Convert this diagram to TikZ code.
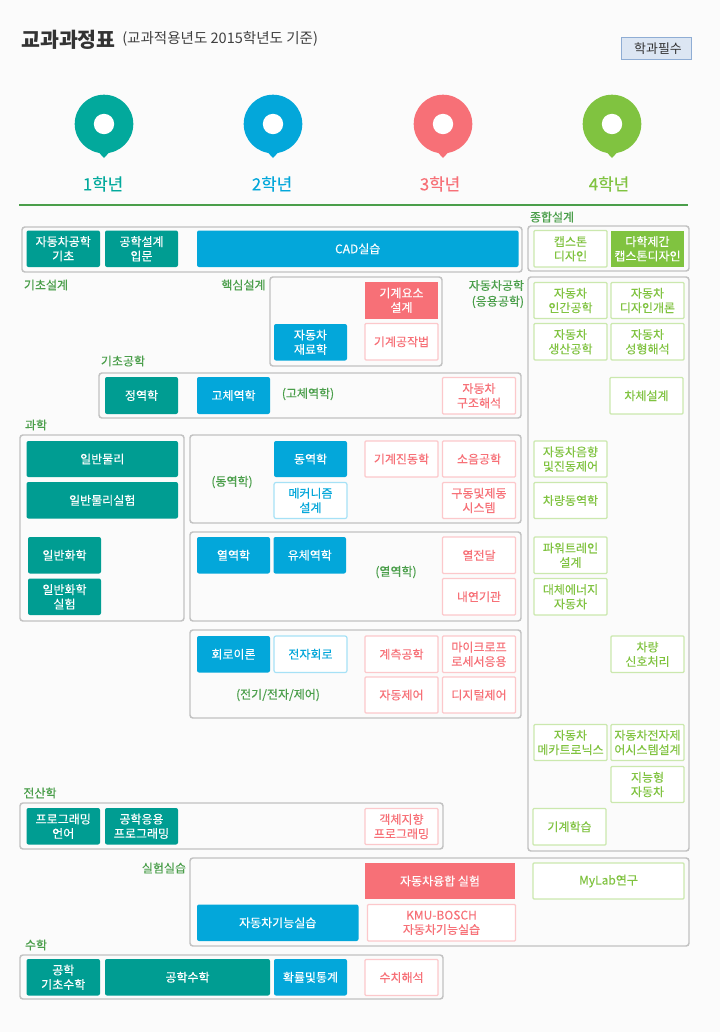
\documentclass[tikz,border=0pt]{standalone}
\usepackage{fontspec}
\newfontfamily\kr{Noto Sans CJK KR}
\newfontfamily\krb[FakeBold=0.12]{Noto Sans CJK KR}
\newfontfamily\krm[FakeBold=0.3]{Noto Sans CJK KR}
\definecolor{teal1}{HTML}{009D92}
\definecolor{teal2}{HTML}{02A99C}
\definecolor{blue1}{HTML}{03A7DA}
\definecolor{red1}{HTML}{F77077}
\definecolor{green1}{HTML}{80C340}
\definecolor{pinkb}{HTML}{FCC8CB}
\definecolor{greenb}{HTML}{CBE8AE}
\definecolor{blueb}{HTML}{A6E1F6}
\definecolor{grayb}{HTML}{C2C2C2}
\definecolor{lab}{HTML}{4A9E4A}
\definecolor{pg}{HTML}{FBFBFB}
\definecolor{legb}{HTML}{8FADD4}
\definecolor{legf}{HTML}{DCE6F3}
\newcommand{\fs}[2]{\fontsize{#1}{#2}\selectfont}
\tikzset{
 x=0.75pt,y=-0.75pt,
 base/.style={inner sep=0pt,outer sep=0pt,align=center,rounded corners=1.5pt,font=\krb\fs{9}{10.8}},
 frame/.style={base,draw=grayb,line width=1.1pt,rounded corners=2.2pt,fill=pg},
 tealbox/.style={base,fill=teal1,text=white},
 bluebox/.style={base,fill=blue1,text=white},
 redbox/.style={base,fill=red1,text=white,rounded corners=0pt},
 greenbox/.style={base,fill=green1,text=white,rounded corners=0pt},
 pinkline/.style={base,draw=pinkb,line width=0.9pt,fill=white,text=red1,rounded corners=0.8pt},
 greenline/.style={base,draw=greenb,line width=0.9pt,fill=white,text=green1,rounded corners=0.8pt},
 blueline/.style={base,draw=blueb,line width=0.9pt,fill=white,text=blue1,rounded corners=1.5pt},
 grouplabel/.style={inner sep=0pt,outer sep=0pt,text=lab,font=\krm\fs{9}{11.8},align=center},
 yearlabel/.style={inner sep=0pt,outer sep=0pt,font=\krb\fs{12.6}{14}}
}
% style, name, x0, y0, x1, y1, text
\newcommand{\bxn}[7]{%
 \pgfmathsetmacro{\cxv}{(#3+#5)/2}\pgfmathsetmacro{\cyv}{(#4+#6)/2}%
 \pgfmathsetmacro{\wv}{(#5-#3)*0.75}\pgfmathsetmacro{\hv}{(#6-#4)*0.75}%
 \node[#1,minimum width=\wv pt,minimum height=\hv pt] (#2) at (\cxv,\cyv) {#7};}
\newcommand{\pinmark}[2]{%
 \fill[#2] (#1,124) circle[radius=29.3];
 \fill[#2] (#1-6,151.5) -- (#1,158) -- (#1+6,151.5) -- cycle;
 \fill[white] (#1,124) circle[radius=10.2];}
\begin{document}
\begin{tikzpicture}
\useasboundingbox (0,0) rectangle (720,1032);
\fill[pg] (0,0) rectangle (720,1032);
% title
\node[anchor=west,inner sep=0pt,font=\kr\bfseries\fs{15.4}{18},text=black!80] (title) at (21,40) {교과과정표};
\node[anchor=west,inner sep=0pt,font=\kr\fs{10.9}{13},text=black!75] (sub) at (122,39) {(교과적용년도 2015학년도 기준)};
\node[base,font=\kr\fs{9.7}{12},draw=legb,line width=0.7pt,fill=legf,text=black!80,rounded corners=0pt,minimum width=52.5pt,minimum height=17pt] (legend) at (656,48.5) {\hspace*{3pt}학과필수};
% pins
\pinmark{104}{teal2}
\pinmark{273}{blue1}
\pinmark{443}{red1}
\pinmark{612}{green1}
\node[yearlabel,text=teal2] (y1) at (103,184) {1학년};
\node[yearlabel,text=blue1] (y2) at (272,184) {2학년};
\node[yearlabel,text=red1] (y3) at (440,184) {3학년};
\node[yearlabel,text=green1] (y4) at (609,184) {4학년};
\draw[lab,line width=2.2pt] (19,205) -- (688,205);
% frames
\bxn{frame}{fa}{22}{227}{522}{272}{}
\bxn{frame}{fb}{528}{226}{689}{271}{}
\bxn{frame}{fc}{270}{277}{442}{366}{}
\bxn{frame}{fd}{99}{373}{521}{418}{}
\bxn{frame}{fe}{20}{435}{184}{621}{}
\bxn{frame}{ff}{190}{435}{521}{523}{}
\bxn{frame}{fg}{190}{532}{521}{621}{}
\bxn{frame}{fh}{190}{630}{521}{718}{}
\bxn{frame}{fi}{20}{803}{443}{849}{}
\bxn{frame}{fj}{190}{858}{689}{946}{}
\bxn{frame}{fk}{20}{955}{443}{999}{}
\bxn{frame}{fl}{528}{277}{689}{851}{}
% group labels
\node[grouplabel] (g1) at (46,285) {기초설계};
\node[grouplabel] (g2) at (243.5,285) {핵심설계};
\node[grouplabel] (g3) at (123,361) {기초공학};
\node[grouplabel] (g4) at (36,425) {과학};
\node[grouplabel,anchor=east,align=right] (g5) at (524,294) {자동차공학\\(응용공학)};
\node[grouplabel] (g6) at (552,217) {종합설계};
\node[grouplabel] (g7) at (40,793) {전산학};
\node[grouplabel] (g8) at (164,868) {실험실습};
\node[grouplabel] (g9) at (36,945) {수학};
\node[grouplabel] (l1) at (308,394) {(고체역학)};
\node[grouplabel] (l2) at (232,482) {(동역학)};
\node[grouplabel] (l3) at (396,572) {(열역학)};
\node[grouplabel] (l4) at (278,695) {(전기/전자/제어)};
% row 1
\bxn{tealbox}{n1}{26.5}{230.5}{100}{267}{자동차공학\\기초}
\bxn{tealbox}{n2}{105}{230.5}{178}{267}{공학설계\\입문}
\bxn{bluebox}{n3}{197}{230.5}{518.5}{267}{CAD실습}
\bxn{greenline}{n4}{534}{230.5}{607}{267}{캡스톤\\디자인}
\bxn{greenbox}{n5}{611}{230.5}{684}{267}{다학제간\\캡스톤디자인}
% core
\bxn{redbox}{n6}{365}{282}{438}{318.5}{기계요소\\설계}
\bxn{pinkline}{n7}{365}{323.5}{438}{360}{기계공작법}
\bxn{bluebox}{n8}{274}{324}{347}{360.5}{자동차\\재료학}
% basic engineering
\bxn{tealbox}{n9}{105}{377}{178}{414}{정역학}
\bxn{bluebox}{n10}{197}{377}{270}{414}{고체역학}
\bxn{pinkline}{n11}{442.5}{377.5}{515.5}{414}{자동차\\구조해석}
% science
\bxn{tealbox}{n12}{26.5}{441}{178}{477}{일반물리}
\bxn{tealbox}{n13}{26.5}{482}{178}{518.5}{일반물리실험}
\bxn{tealbox}{n14}{28}{537}{101}{573.5}{일반화학}
\bxn{tealbox}{n15}{28}{578.5}{101}{615}{일반화학\\실험}
% dynamics
\bxn{bluebox}{n16}{274}{441}{347}{477}{동역학}
\bxn{blueline}{n17}{274}{482.5}{347}{518.5}{메커니즘\\설계}
\bxn{pinkline}{n18}{365}{441}{438}{477}{기계진동학}
\bxn{pinkline}{n19}{442.5}{441}{515.5}{477}{소음공학}
\bxn{pinkline}{n20}{442.5}{482.5}{515.5}{518.5}{구동및제동\\시스템}
% thermo
\bxn{bluebox}{n21}{197}{537}{270}{573.5}{열역학}
\bxn{bluebox}{n22}{273.5}{537}{346}{573.5}{유체역학}
\bxn{pinkline}{n23}{442.5}{537}{515.5}{573.5}{열전달}
\bxn{pinkline}{n24}{442.5}{578.5}{515.5}{615}{내연기관}
% electric
\bxn{bluebox}{n25}{197}{636}{270}{672.5}{회로이론}
\bxn{blueline}{n26}{274}{636}{347}{672.5}{전자회로}
\bxn{pinkline}{n27}{365}{636}{438}{672.5}{계측공학}
\bxn{pinkline}{n28}{442.5}{636}{515.5}{672.5}{마이크로프\\로세서응용}
\bxn{pinkline}{n29}{365}{677}{438}{713}{자동제어}
\bxn{pinkline}{n30}{442.5}{677}{515.5}{713}{디지털제어}
% right column
\bxn{greenline}{n31}{534}{282.5}{607}{318.5}{자동차\\인간공학}
\bxn{greenline}{n32}{611}{282.5}{684}{318.5}{자동차\\디자인개론}
\bxn{greenline}{n33}{534}{323.5}{607}{360}{자동차\\생산공학}
\bxn{greenline}{n34}{611}{323.5}{684}{360}{자동차\\성형해석}
\bxn{greenline}{n35}{610}{377.5}{683}{414}{차체설계}
\bxn{greenline}{n36}{534}{441}{607}{477}{자동차음향\\및진동제어}
\bxn{greenline}{n37}{534}{482.5}{607}{518.5}{차량동역학}
\bxn{greenline}{n38}{534}{537}{607}{573.5}{파워트레인\\설계}
\bxn{greenline}{n39}{534}{578.5}{607}{615}{대체에너지\\자동차}
\bxn{greenline}{n40}{611}{636}{684}{672.5}{차량\\신호처리}
\bxn{greenline}{n41}{534}{724.5}{607}{760.5}{자동차\\메카트로닉스}
\bxn{greenline}{n42}{611}{724.5}{684}{760.5}{자동차전자제\\어시스템설계}
\bxn{greenline}{n43}{611}{766.5}{684}{802.5}{지능형\\자동차}
\bxn{greenline}{n44}{533}{808.5}{606}{845}{기계학습}
% computing
\bxn{tealbox}{n45}{26.5}{808}{100}{844.5}{프로그래밍\\언어}
\bxn{tealbox}{n46}{105}{808}{178}{844.5}{공학응용\\프로그래밍}
\bxn{pinkline}{n47}{365}{808.5}{438}{844.5}{객체지향\\프로그래밍}
% lab
\bxn{redbox}{n48}{365}{863}{515}{899}{자동차융합 실험}
\bxn{greenline}{n49}{533}{863}{684}{899}{MyLab연구}
\bxn{bluebox}{n50}{197}{904.5}{358.5}{941}{자동차기능실습}
\bxn{pinkline}{n51}{367.5}{904.5}{515.5}{941}{KMU-BOSCH\\자동차기능실습}
% math
\bxn{tealbox}{n52}{26.5}{959}{100}{995.5}{공학\\기초수학}
\bxn{tealbox}{n53}{105}{959}{270}{995.5}{공학수학}
\bxn{bluebox}{n54}{274}{959}{347}{995.5}{확률및통계}
\bxn{pinkline}{n55}{365}{959.5}{438}{995.5}{수치해석}
\end{tikzpicture}
\end{document}
